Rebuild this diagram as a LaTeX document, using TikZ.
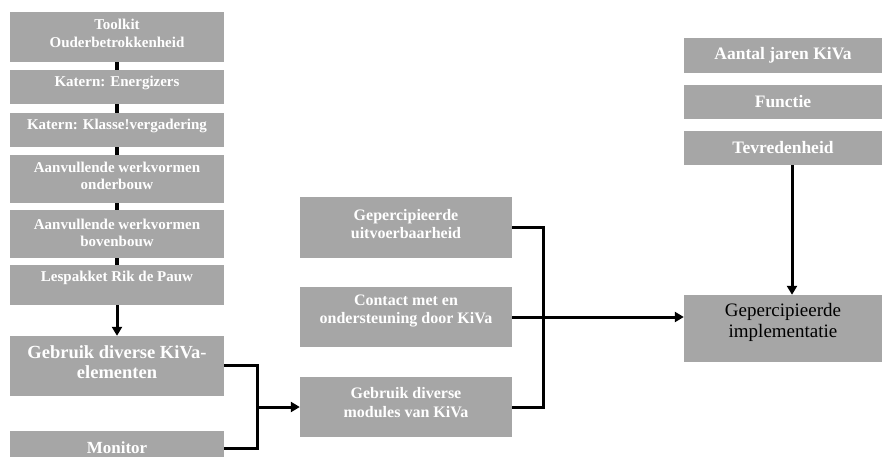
\documentclass[tikz,border=0pt]{standalone}
\usepackage{fontspec}
\setmainfont{Liberation Serif}
\usetikzlibrary{arrows.meta,calc}
\definecolor{boxgray}{RGB}{166,166,166}
\begin{document}
\begin{tikzpicture}[x=1pt,y=-1pt,
 box/.style={fill=boxgray, draw=none, inner sep=0pt},
 txt/.style={text=white, font=\bfseries\fontsize{15}{17.5}\selectfont, align=center, inner sep=0pt},
 bigtxt/.style={txt, font=\bfseries\fontsize{17}{20}\selectfont},
 kivatxt/.style={txt, font=\bfseries\fontsize{18.5}{20}\selectfont},
 midtxt/.style={txt, font=\bfseries\fontsize{16}{18.5}\selectfont},
 righttxt/.style={txt, font=\bfseries\fontsize{17.5}{20}\selectfont},
 impltxt/.style={text=black, font=\fontsize{19}{21}\selectfont, align=center, inner sep=0pt},
 bar/.style={line width=4pt},
 conn/.style={line width=3pt},
 arr/.style={line width=3pt, -{Triangle[length=9pt,width=10pt]}}]
\clip (0,0) rectangle (885,457);
% left column
\node[box, minimum width=214pt, minimum height=50pt] (l1) at (117,37) {};
\node[txt] (l1t) at ([yshift=3.5pt]l1.center) {Toolkit\\Ouderbetrokkenheid};
\node[box, minimum width=214pt, minimum height=34pt] (l2) at (117,87) {};
\node[txt] (l2t) at ([yshift=4pt]l2.center) {Katern: Energizers};
\node[box, minimum width=214pt, minimum height=34pt] (l3) at (117,130) {};
\node[txt] (l3t) at ([yshift=4pt]l3.center) {Katern: Klasse!vergadering};
\node[box, minimum width=214pt, minimum height=48pt] (l4) at (117,179) {};
\node[txt] (l4t) at ([yshift=3pt]l4.center) {Aanvullende werkvormen\\onderbouw};
\node[box, minimum width=214pt, minimum height=48pt] (l5) at (117,234) {};
\node[txt] (l5t) at ([yshift=1pt]l5.center) {Aanvullende werkvormen\\bovenbouw};
\node[box, minimum width=214pt, minimum height=40pt] (l6) at (117,285) {};
\node[txt] (l6t) at ([yshift=7pt]l6.center) {Lespakket Rik de Pauw};
\node[box, minimum width=214pt, minimum height=60pt] (ke) at (117,366) {};
\node[kivatxt] (ket) at ([yshift=4pt]ke.center) {Gebruik diverse KiVa-\\elementen};
\node[box, minimum width=214pt, minimum height=32pt] (mo) at (117,447) {};
\node[bigtxt] (mot) at ([yshift=-1pt]mo.center) {Monitor};
% middle column
\node[box, minimum width=212pt, minimum height=61pt] (ma) at (406,227.5) {};
\node[midtxt] (mat) at ([yshift=3.5pt]ma.center) {Gepercipieerde\\uitvoerbaarheid};
\node[box, minimum width=212pt, minimum height=60pt] (mb) at (406,317) {};
\node[midtxt] (mbt) at ([yshift=6pt]mb.center) {Contact met en\\ondersteuning door KiVa};
\node[box, minimum width=212pt, minimum height=60pt] (mc) at (406,407) {};
\node[midtxt] (mct) at ([yshift=4.5pt]mc.center) {Gebruik diverse\\modules van KiVa};
% right column
\node[box, minimum width=198pt, minimum height=35pt] (r1) at (783,55.5) {};
\node[righttxt] (r1t) at (r1.center) {Aantal jaren KiVa};
\node[box, minimum width=198pt, minimum height=34pt] (r2) at (783,102) {};
\node[righttxt] (r2t) at (r2.center) {Functie};
\node[box, minimum width=198pt, minimum height=34pt] (r3) at (783,148) {};
\node[righttxt] (r3t) at (r3.center) {Tevredenheid};
\node[box, minimum width=198pt, minimum height=67pt] (im) at (783,328.5) {};
\node[impltxt] (imt) at ([yshift=6pt]im.center) {Gepercipieerde\\implementatie};
% connectors left column
\draw[bar] (l1.south) -- (l2.north);
\draw[bar] (l2.south) -- (l3.north);
\draw[bar] (l3.south) -- (l4.north);
\draw[bar] (l4.south) -- (l5.north);
\draw[bar] (l5.south) -- (l6.north);
\draw[arr] (l6.south) -- (ke.north);
% left bracket
\coordinate (lb) at (257,407);
\draw[conn] ([yshift=1pt]ke.east) -| (lb) |- ([yshift=-1pt]mo.east);
\draw[arr] (lb) -- (mc.west);
% middle bracket
\coordinate (mbk) at (543,317);
\draw[conn] (ma.east) -| (mbk) |- (mc.east);
\draw[arr] (mb.east) -- (mb.east -| im.west);
% right arrow
\draw[arr] ([xshift=9pt]r3.south) -- ([xshift=9pt]im.north);
\end{tikzpicture}
\end{document}
